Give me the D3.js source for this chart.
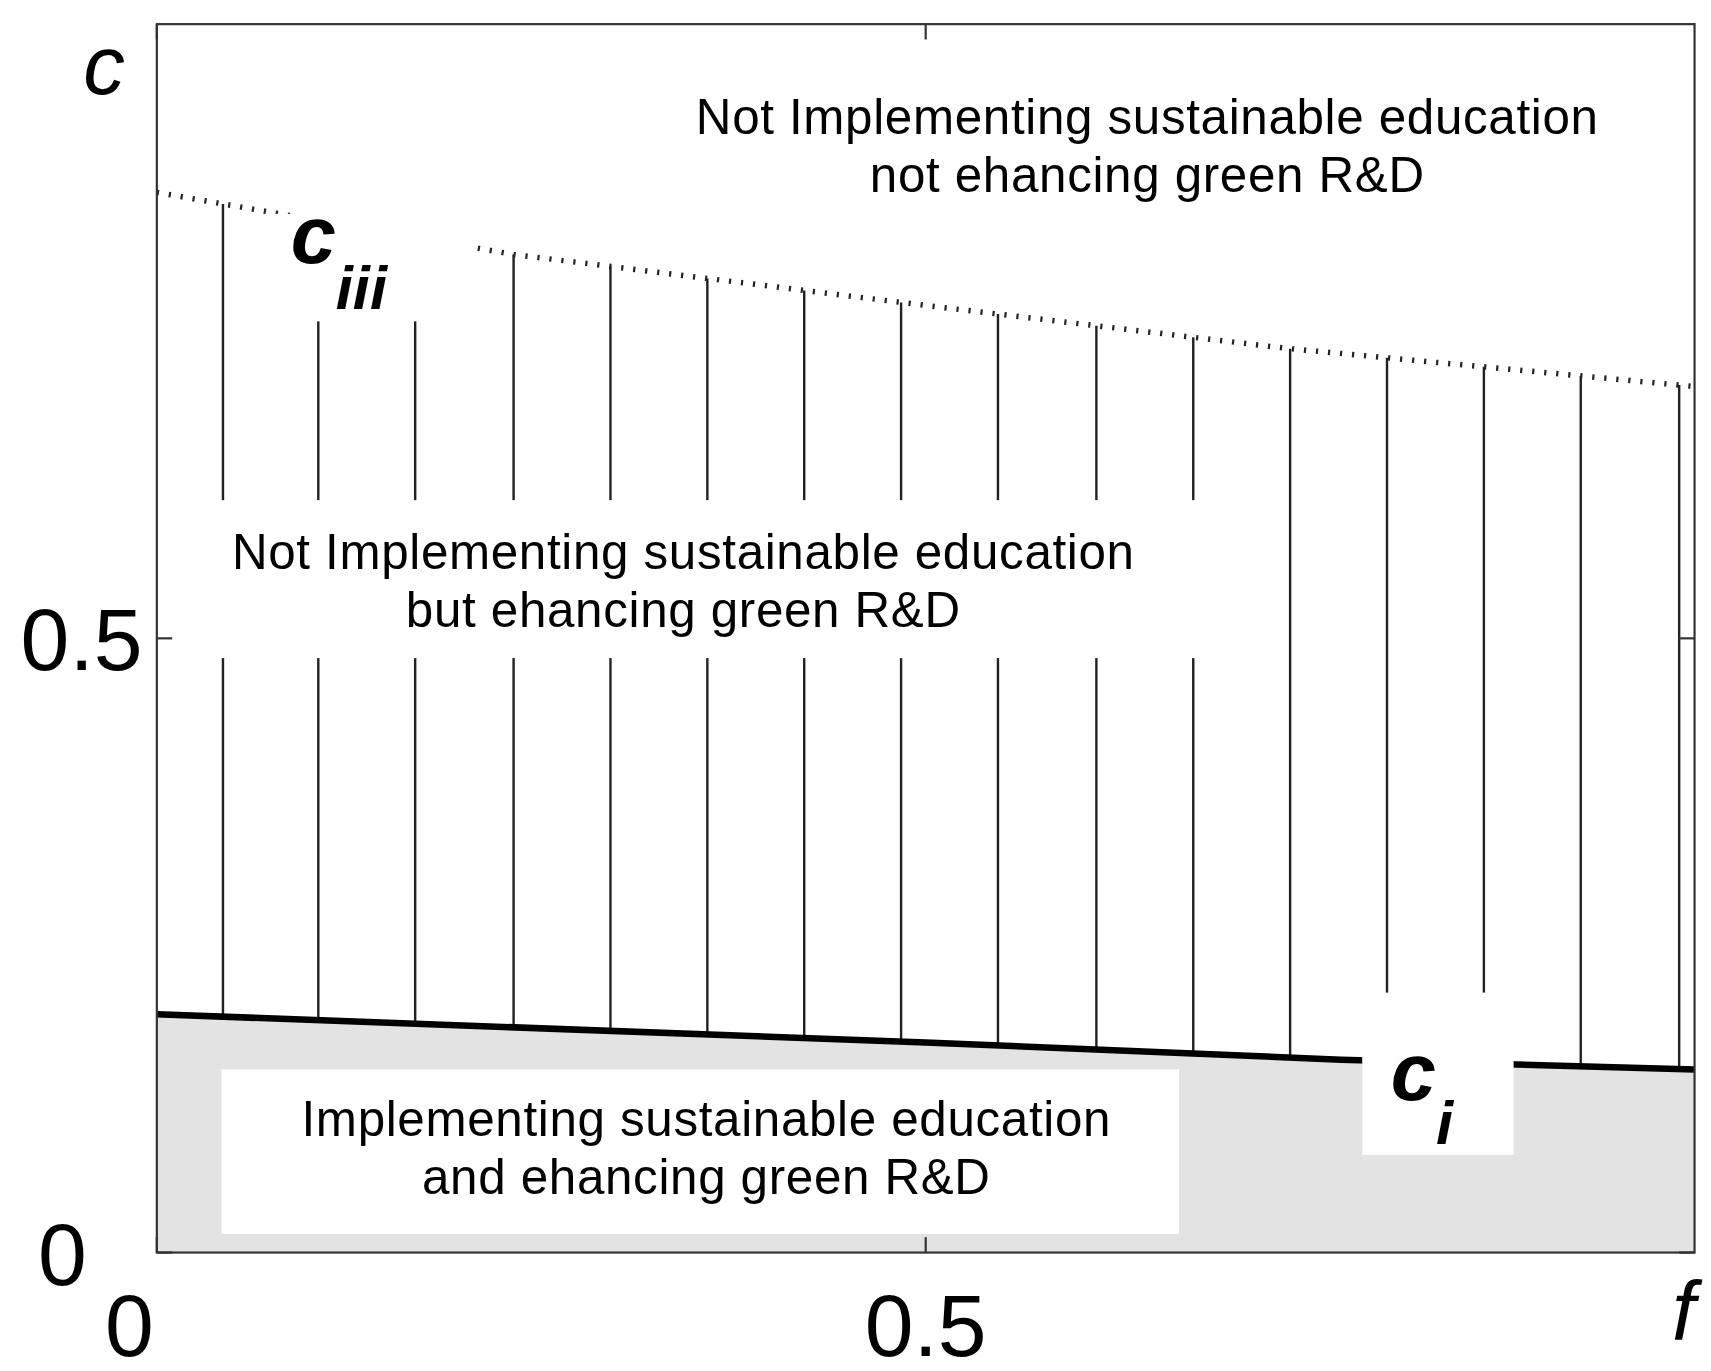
<!DOCTYPE html>
<html><head><meta charset="utf-8">
<script src="https://cdn.jsdelivr.net/npm/d3@7"></script>
<style>body{margin:0;background:#fff}text{font-family:"Liberation Sans",Arial,sans-serif}</style>
</head><body>
<svg id="chart" width="1711" height="1371" viewBox="0 0 1560 1250"></svg>
<script>
// boundary curves
var fVals = [0, 0.232, 0.5, 0.735, 1];
var cIII = [0.863, 0.8125, 0.771, 0.736, 0.705];
var fCi = [0, 0.5, 0.77, 1];
var cI = [0.194, 0.171, 0.157, 0.149];
// hatch line positions (f)
var hatchF = [0.043, 0.105, 0.168, 0.232, 0.295, 0.358, 0.421, 0.484, 0.547, 0.611, 0.674, 0.737, 0.8, 0.863, 0.926, 0.99];
var xTicks = [0, 0.5];
var yTicks = [0, 0.5];

var svg = d3.select('#chart');
var x = d3.scaleLinear().domain([0, 1]).range([143, 1545]);
var y = d3.scaleLinear().domain([0, 1]).range([1142, 22]);

function interp(fs, cs, f) { return d3.scaleLinear().domain(fs).range(cs)(f); }

// gray region below c_i
var area = d3.area().x(function(d) { return x(d[0]); }).y0(y(0)).y1(function(d) { return y(d[1]); });
svg.append('path').datum(fCi.map(function(f, i) { return [f, cI[i]]; }))
    .attr('d', area).attr('fill', '#e3e3e3');

// vertical hatching between c_i and c_iii
svg.selectAll('.hatch').data(hatchF).enter().append('line')
    .attr('x1', function(d) { return x(d); }).attr('x2', function(d) { return x(d); })
    .attr('y1', function(d) { return y(interp(fVals, cIII, d)); })
    .attr('y2', function(d) { return y(interp(fCi, cI, d)); })
    .attr('stroke', '#222').attr('stroke-width', 2.2);

// c_iii dotted
var line = d3.line().x(function(d) { return x(d[0]); }).y(function(d) { return y(d[1]); });
svg.append('path').datum(fVals.map(function(f, i) { return [f, cIII[i]]; }))
    .attr('d', line).attr('fill', 'none').attr('stroke', '#222')
    .attr('stroke-width', 5).attr('stroke-dasharray', '2,9');

// c_i thick
svg.append('path').datum(fCi.map(function(f, i) { return [f, cI[i]]; }))
    .attr('d', line).attr('fill', 'none').attr('stroke', '#000').attr('stroke-width', 6);

// white label boxes
svg.append('rect').attr('x', 250).attr('y', 195).attr('width', 180).attr('height', 98).attr('fill', '#fff');
svg.append('rect').attr('x', 195).attr('y', 456).attr('width', 905).attr('height', 144).attr('fill', '#fff');
svg.append('rect').attr('x', 202).attr('y', 975).attr('width', 873).attr('height', 150).attr('fill', '#fff');
svg.append('rect').attr('x', 1242).attr('y', 905).attr('width', 138).attr('height', 148).attr('fill', '#fff');

// frame
svg.append('rect').attr('x', 143).attr('y', 22).attr('width', 1402).attr('height', 1120)
    .attr('fill', 'none').attr('stroke', '#333').attr('stroke-width', 2);
// inward ticks
svg.selectAll('.xt').data(xTicks).enter().append('g').each(function(d) {
    var g = d3.select(this);
    g.append('line').attr('x1', x(d)).attr('x2', x(d)).attr('y1', 1142).attr('y2', 1128).attr('stroke', '#333').attr('stroke-width', 2);
    g.append('line').attr('x1', x(d)).attr('x2', x(d)).attr('y1', 22).attr('y2', 36).attr('stroke', '#333').attr('stroke-width', 2);
});
svg.selectAll('.yt').data(yTicks).enter().append('g').each(function(d) {
    var g = d3.select(this);
    g.append('line').attr('x1', 143).attr('x2', 157).attr('y1', y(d)).attr('y2', y(d)).attr('stroke', '#333').attr('stroke-width', 2);
    g.append('line').attr('x1', 1545).attr('x2', 1531).attr('y1', y(d)).attr('y2', y(d)).attr('stroke', '#333').attr('stroke-width', 2);
});

// tick labels
var tf = 80;
svg.append('text').attr('x', 118).attr('y', 1236).attr('font-size', tf).attr('text-anchor', 'middle').text('0');
svg.append('text').attr('x', x(0.5)).attr('y', 1236).attr('font-size', tf).attr('text-anchor', 'middle').text('0.5');
svg.append('text').attr('x', 57).attr('y', 1172).attr('font-size', tf).attr('text-anchor', 'middle').text('0');
svg.append('text').attr('x', 130).attr('y', y(0.5) + 29).attr('font-size', tf).attr('text-anchor', 'end').text('0.5');
svg.append('text').attr('x', 1535).attr('y', 1222).attr('font-size', 76).attr('font-style', 'italic').attr('text-anchor', 'middle').text('f');
svg.append('text').attr('x', 95).attr('y', 86).attr('font-size', 76).attr('font-style', 'italic').attr('text-anchor', 'middle').text('c');

// curve labels
var lab1 = svg.append('text').attr('x', 265).attr('y', 240).attr('font-size', 74).attr('font-weight', 'bold').attr('font-style', 'italic');
lab1.append('tspan').text('c');
lab1.append('tspan').attr('font-size', 56).attr('dy', 42).text('iii');
var lab2 = svg.append('text').attr('x', 1268).attr('y', 1003).attr('font-size', 74).attr('font-weight', 'bold').attr('font-style', 'italic');
lab2.append('tspan').text('c');
lab2.append('tspan').attr('font-size', 56).attr('dy', 40).text('i');

// region texts
function region(cx, cy, lines) {
    svg.append('text').attr('x', cx).attr('y', cy).attr('font-size', 45).attr('text-anchor', 'middle')
        .attr('letter-spacing', 0.6)
        .selectAll('tspan').data(lines).enter().append('tspan')
        .attr('x', cx).attr('dy', function(d, i) { return i ? 53 : 0; }).text(function(d) { return d; });
}
region(1046, 122, ['Not Implementing sustainable education', 'not ehancing green R&D']);
region(623, 519, ['Not Implementing sustainable education', 'but ehancing green R&D']);
region(644, 1036, ['Implementing sustainable education', 'and ehancing green R&D']);
</script>
</body></html>
